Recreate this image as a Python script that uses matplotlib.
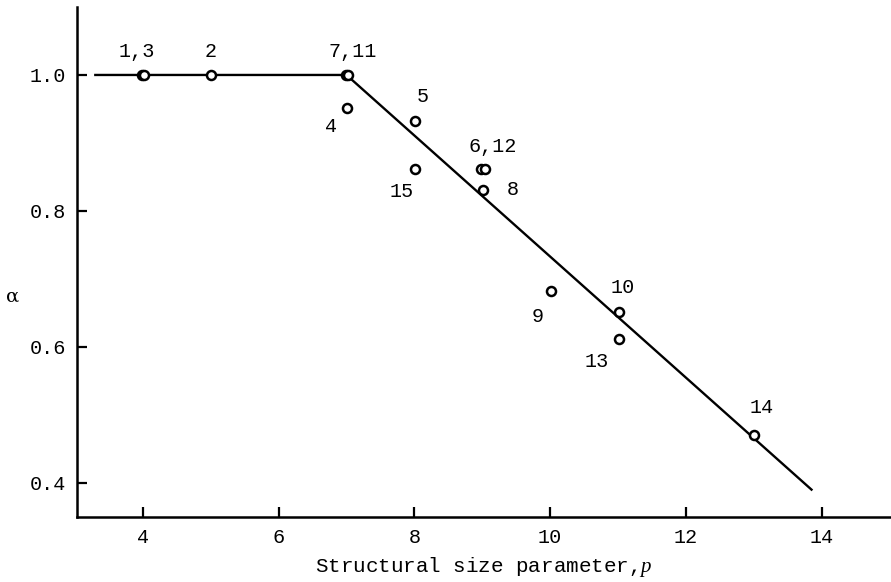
import matplotlib
matplotlib.use("Agg")
import matplotlib.pyplot as plt

# data (point number -> p, alpha)
point_no = [1, 2, 3, 4, 5, 6, 7, 8, 9, 10, 11, 12, 13, 14, 15]
p_vals = [3.985, 5.0, 4.02, 7.01, 8.01, 8.985, 6.99, 9.01, 10.01, 11.01, 7.02, 9.035, 11.01, 13.0, 8.01]
alpha_vals = [1.0, 1.0, 1.0, 0.952, 0.932, 0.862, 1.0, 0.831, 0.682, 0.652, 1.0, 0.862, 0.612, 0.471, 0.862]

# fitted broken line
fit_p = [3.3, 7.0, 13.85]
fit_alpha = [1.0, 1.0, 0.39]

# point labels: text, point it belongs to
label_text = ["1,3", "2", "7,11", "4", "5", "15", "6,12", "8", "9", "10", "13", "14"]
label_pt = [1, 2, 7, 4, 5, 15, 6, 8, 9, 10, 13, 14]
# offsets in pixels (layout only)
label_off = [(-5, 23), (0, 23), (7, 23), (-16, -19), (8, 25), (-13, -23),
             (12, 22), (30, 0), (-13, -25), (4, 24), (-22, -23), (8, 27)]

mono = "Liberation Mono"
fs = 14.5
plt.rcParams["mathtext.fontset"] = "custom"
plt.rcParams["mathtext.it"] = "Liberation Serif:italic"

fig = plt.figure(figsize=(8.91, 5.82), dpi=100)
ax = fig.add_axes([0.0864, 0.112, 0.912, 0.876])

ax.plot(fit_p, fit_alpha, color="black", lw=1.7)
ax.plot(p_vals, alpha_vals, "o", ms=6.5, mfc="white", mec="black", mew=1.8, ls="none")

for t, n, off in zip(label_text, label_pt, label_off):
    i = point_no.index(n)
    ax.annotate(t, (p_vals[i], alpha_vals[i]), xytext=off, textcoords="offset pixels",
                ha="center", va="center", fontsize=fs, family=mono)

ax.set_xlim(3.03, 15.0)
ax.set_ylim(0.35, 1.10)
ax.set_xticks([4, 6, 8, 10, 12, 14])
ax.set_yticks([0.4, 0.6, 0.8, 1.0])
ax.set_xticklabels(["4", "6", "8", "10", "12", "14"], family=mono, fontsize=fs)
ax.set_yticklabels(["0.4", "0.6", "0.8", "1.0"], family=mono, fontsize=fs)
ax.tick_params(direction="in", length=7, width=1.6, pad=8)

for s in ["top", "right"]:
    ax.spines[s].set_visible(False)
for s in ["left", "bottom"]:
    ax.spines[s].set_linewidth(1.8)

ax.set_xlabel("Structural size parameter,$p$", family=mono, fontsize=15, labelpad=6)
fig.text(0.014, 0.49, "α", fontsize=14, family="DejaVu Serif", ha="center", va="center")

fig.savefig("out.png", dpi=100)
